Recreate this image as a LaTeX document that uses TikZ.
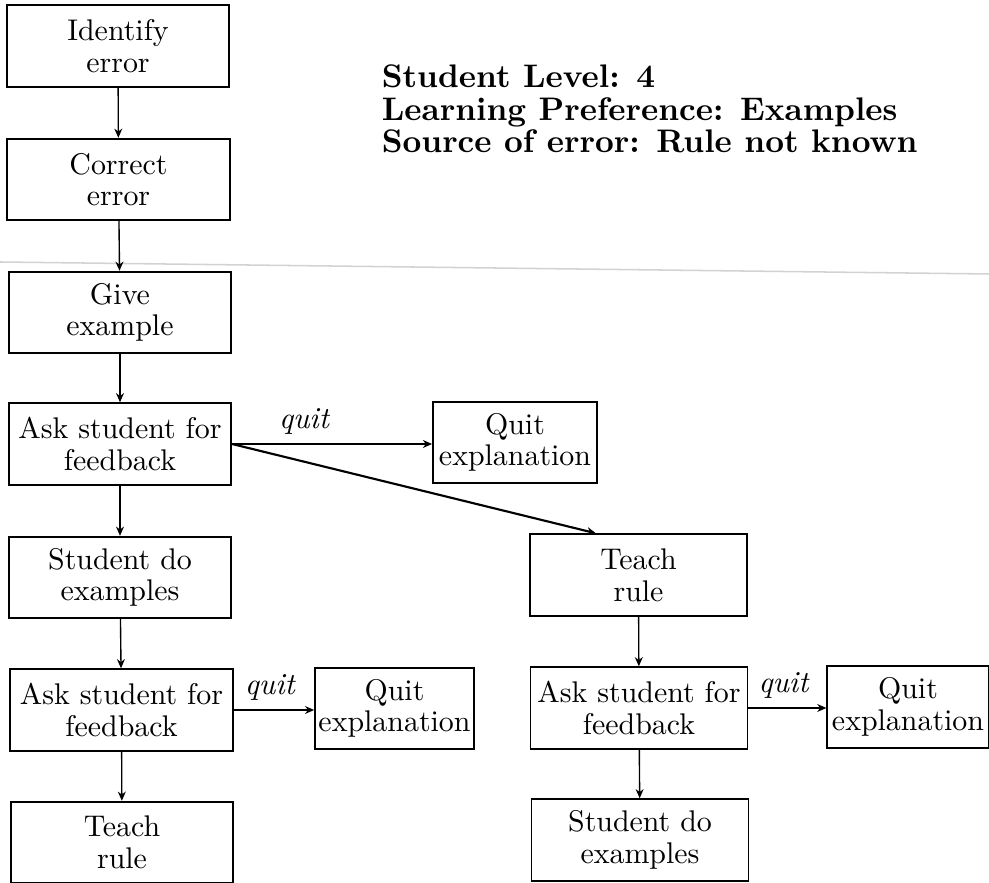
\documentclass[tikz,border=0pt]{standalone}
\usepackage{tikz}
\usetikzlibrary{positioning,arrows.meta}

\tikzset{
    stepbox/.style={draw, rectangle, line width=0.6pt, align=center, inner sep=1pt,
        minimum width=2.56cm, minimum height=0.94cm, font=\fontsize{9.8}{10.4}\selectfont},
    quitbox/.style={stepbox, minimum width=1.86cm},
    flow/.style={-{Stealth[length=3pt,width=2.6pt]}, line width=0.45pt},
    quitlbl/.style={above, font=\itshape\fontsize{10}{10}\selectfont, inner sep=3pt}
}

\begin{document}
\begin{tikzpicture}[x=1.152cm, y=-1.152cm]
    \useasboundingbox (0,0) rectangle (9.89,8.83);

    % Fold line of the page
    \draw[gray!35, line width=0.5pt] (0,2.62) -- (9.89,2.74);

    % Left column
    \node[stepbox] (ident) at (1.18, 0.46) {Identify\\error};
    \node[stepbox] (correct) at (1.185, 1.795) {Correct\\error};
    \node[stepbox] (give) at (1.20, 3.125) {Give\\example};
    \node[stepbox] (askA) at (1.20, 4.44) {Ask student for\\feedback};
    \node[stepbox] (doA) at (1.20, 5.775) {Student do\\examples};
    \node[stepbox] (askB) at (1.215, 7.10) {Ask student for\\feedback};
    \node[stepbox] (teachA) at (1.22, 8.425) {Teach\\rule};

    % Right column
    \node[stepbox, minimum width=2.5cm] (teachB) at (6.385, 5.75) {Teach\\rule};
    \node[stepbox, minimum width=2.5cm] (askC) at (6.39, 7.08) {Ask student for\\feedback};
    \node[stepbox, minimum width=2.5cm] (doB) at (6.40, 8.40) {Student do\\examples};

    % Quit boxes
    \node[quitbox, minimum width=1.89cm] (quitA) at (5.15, 4.425) {Quit\\explanation};
    \node[quitbox, minimum width=1.83cm] (quitB) at (3.945, 7.085) {Quit\\explanation};
    \node[quitbox] (quitC) at (9.08, 7.07) {Quit\\explanation};

    % Header
    \node[anchor=west, align=left, font=\fontsize{10.7}{10.6}\selectfont\bfseries] (info) at (3.71, 1.09)
        {Student Level: 4\\Learning Preference: Examples\\Source of error: Rule not known};

    % Main flow
    \draw[flow] (ident) -- (correct);
    \draw[flow] (correct) -- (give);
    \draw[flow] (give) -- (askA);
    \draw[flow] (askA) -- (doA);
    \draw[flow] (doA) -- (askB);
    \draw[flow] (askB) -- (teachA);
    \draw[flow] (teachB) -- (askC);
    \draw[flow] (askC) -- (doB);

    % Quit branches
    \draw[flow] (askA.east) -- node[quitlbl, pos=0.36] {quit} (askA.east -| quitA.west);
    \draw[flow] (askB.east) -- node[quitlbl, pos=0.45] {quit} (askB.east -| quitB.west);
    \draw[flow] (askC.east) -- node[quitlbl, pos=0.45] {quit} (askC.east -| quitC.west);

    % Rule not known
    \draw[flow, line width=0.7pt] (askA.east) -- ([xshift=0.77cm]teachB.north west);
\end{tikzpicture}
\end{document}
